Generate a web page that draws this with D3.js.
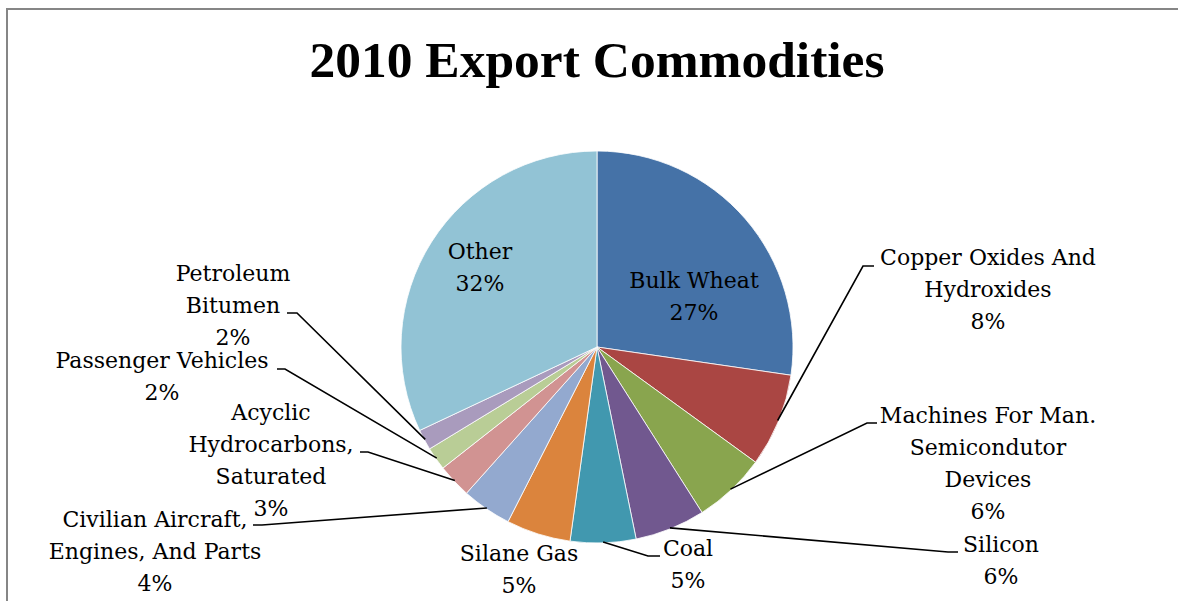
<!DOCTYPE html>
<html>
<head>
<meta charset="utf-8">
<script src="https://cdn.jsdelivr.net/npm/d3@7"></script>
<style>
  body { margin: 0; background: #fff; }
  svg { display: block; }
</style>
</head>
<body>
<svg class="chart"></svg>
<script>
// slices clockwise from 12 o'clock
var categories = ["Bulk Wheat", "Copper Oxides And Hydroxides", "Machines For Man. Semicondutor Devices",
  "Silicon", "Coal", "Silane Gas", "Civilian Aircraft, Engines, And Parts",
  "Acyclic Hydrocarbons, Saturated", "Passenger Vehicles", "Petroleum Bitumen", "Other"];
var values = [27.3, 7.7, 6.0, 5.8, 5.4, 5.3, 4.1, 2.8, 1.9, 1.7, 32.0];
var colors = ["#4572a7", "#aa4643", "#89a54e", "#71588f", "#4198af", "#db843d",
  "#93a9cf", "#d19392", "#b9cd96", "#a99bbd", "#92c3d5"];

// how each label is broken into lines
var labelLines = [
  ["Bulk Wheat"],
  ["Copper Oxides And", "Hydroxides"],
  ["Machines For Man.", "Semicondutor", "Devices"],
  ["Silicon"],
  ["Coal"],
  ["Silane Gas"],
  ["Civilian Aircraft,", "Engines, And Parts"],
  ["Acyclic", "Hydrocarbons,", "Saturated"],
  ["Passenger Vehicles"],
  ["Petroleum", "Bitumen"],
  ["Other"]
];

var width = 1178;
var height = 601;
var cx = 597, cy = 347, radius = 196;
var lineH = 32;

// label block: centre x, baseline of first line; leader elbow (ex,ey) and end x (hx)
var layout = [
  {x: 694, y: 288},
  {x: 988, y: 265, ex: 863, ey: 266, hx: 874},
  {x: 988, y: 423, ex: 867, ey: 423, hx: 877},
  {x: 1001, y: 552, ex: 948, ey: 552, hx: 958},
  {x: 688, y: 556, ex: 648, ey: 556, hx: 660},
  {x: 519, y: 561},
  {x: 155, y: 527, ex: 262, ey: 525, hx: 253},
  {x: 271, y: 420, ex: 368, ey: 452, hx: 360},
  {x: 162, y: 368, ex: 285, ey: 369, hx: 277},
  {x: 233, y: 281, ex: 297, ey: 313, hx: 287},
  {x: 480, y: 259}
];

var svg = d3.select(".chart")
  .attr("width", width)
  .attr("height", height);

// frame
svg.append("rect")
  .attr("x", 7)
  .attr("y", 9)
  .attr("width", 1200)
  .attr("height", 620)
  .attr("fill", "none")
  .attr("stroke", "#868686")
  .attr("stroke-width", 2);

svg.append("text")
  .text("2010 Export Commodities")
  .attr("x", 597)
  .attr("y", 77)
  .attr("text-anchor", "middle")
  .attr("font-family", "Liberation Serif")
  .attr("font-weight", "bold")
  .attr("font-size", "51.5px")
  .attr("fill", "#000");

var pie = d3.pie().sort(null).value(function(d) { return d; });
var arcs = pie(values);
var total = d3.sum(values);

var arc = d3.arc().innerRadius(0).outerRadius(radius);

var g = svg.append("g")
  .attr("transform", "translate(" + cx + "," + cy + ")");

g.selectAll("path")
  .data(arcs)
  .enter()
  .append("path")
  .attr("d", arc)
  .attr("fill", function(d, i) { return colors[i]; })
  .attr("stroke", "#ffffff")
  .attr("stroke-width", 0.8);

// leader lines
svg.selectAll("polyline.leader")
  .data(arcs.filter(function(d, i) { return layout[i].ex !== undefined; }))
  .enter()
  .append("polyline")
  .attr("class", "leader")
  .attr("points", function(d) {
    var L = layout[d.index];
    var a = (d.startAngle + d.endAngle) / 2;
    var p = [cx + (radius - 1) * Math.sin(a), cy - (radius - 1) * Math.cos(a)];
    return [p, [L.ex, L.ey], [L.hx, L.ey]].map(function(q) { return q.join(","); }).join(" ");
  })
  .attr("fill", "none")
  .attr("stroke", "#000")
  .attr("stroke-width", 1.6);

// labels
var labels = svg.selectAll("text.lbl")
  .data(arcs)
  .enter()
  .append("text")
  .attr("class", "lbl")
  .attr("text-anchor", "middle")
  .attr("font-family", "DejaVu Serif")
  .attr("font-size", "22px")
  .attr("fill", "#000");

labels.each(function(d, i) {
  var t = d3.select(this);
  var L = layout[i];
  var lines = labelLines[i].concat([Math.round(d.value / total * 100) + "%"]);
  lines.forEach(function(s, k) {
    t.append("tspan")
      .attr("x", L.x)
      .attr("y", L.y + k * lineH)
      .text(s);
  });
});
</script>
</body>
</html>
